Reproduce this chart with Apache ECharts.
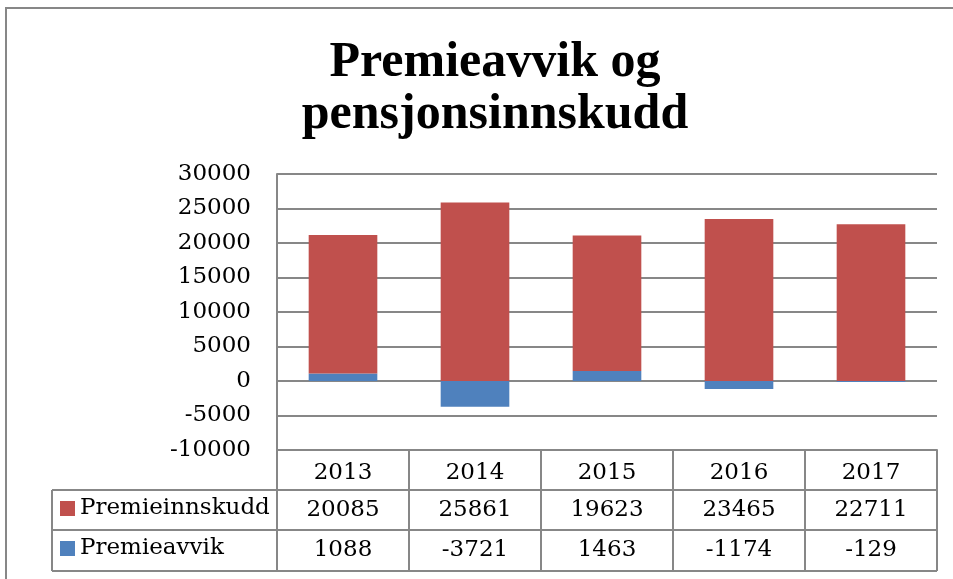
<!DOCTYPE html>
<html>
<head>
<meta charset="utf-8">
<script src="https://cdn.jsdelivr.net/npm/echarts@6/dist/echarts.min.js"></script>
<style>
  html, body { margin: 0; padding: 0; background: #fff; }
  #main { width: 953px; height: 579px; }
</style>
</head>
<body>
<div id="main"></div>
<script>
// data
const years = ['2013', '2014', '2015', '2016', '2017'];
const premieinnskudd = [20085, 25861, 19623, 23465, 22711];
const premieavvik = [1088, -3721, 1463, -1174, -129];

const red = '#C0504D';
const blue = '#4F81BD';
const lineGray = '#878787';
const labelFont = 'DejaVu Serif';
const labelSize = 23;

var chart = echarts.init(document.getElementById('main'));

function legendAt (name, top) {
  return {
    left: 60,
    top: top,
    padding: 0,
    itemWidth: 15,
    itemHeight: 15,
    itemGap: 0,
    icon: 'rect',
    selectedMode: false,
    data: [name],
    textStyle: { fontFamily: labelFont, fontSize: labelSize, color: '#000' }
  }
}

let option = {
  animation: false,
  title: {
    text: 'Premieavvik og\npensjonsinnskudd',
    left: 490,
    top: 32,
    textAlign: 'center',
    textStyle: {
      fontFamily: 'Liberation Serif',
      fontWeight: 'bold',
      fontSize: 50,
      lineHeight: 52,
      color: '#000'
    }
  },
  legend: [legendAt('Premieinnskudd', 497), legendAt('Premieavvik', 537)],
  grid: { left: 277, top: 174, width: 660, height: 276 },
  xAxis: {
    type: 'category',
    data: years,
    axisLine: { show: true, onZero: false, lineStyle: { color: lineGray, width: 2 } },
    axisTick: { show: true, interval: 0, alignWithLabel: false, length: 40, lineStyle: { color: lineGray, width: 2 } },
    axisLabel: { margin: 12, fontFamily: labelFont, fontSize: labelSize, color: '#000' }
  },
  yAxis: {
    type: 'value',
    min: -10000,
    max: 30000,
    interval: 5000,
    axisLine: { show: true, lineStyle: { color: lineGray, width: 2 } },
    axisTick: { show: false },
    splitLine: { lineStyle: { color: lineGray, width: 2 } },
    axisLabel: {
      margin: 26, fontFamily: labelFont, fontSize: labelSize, color: '#000',
      formatter: (v) => String(v)
    }
  },
  series: [
    {
      name: 'Premieavvik',
      type: 'bar',
      stack: 'total',
      barWidth: '52%',
      itemStyle: { color: blue },
      data: premieavvik
    },
    {
      name: 'Premieinnskudd',
      type: 'bar',
      stack: 'total',
      barWidth: '52%',
      itemStyle: { color: red },
      data: premieinnskudd
    }
  ]
};
chart.setOption(option);

// data table under the axis
let gfx = [];
gfx.push({
  type: 'rect',
  shape: { x: 6, y: 8, width: 1000, height: 1000 },
  style: { fill: null, stroke: lineGray, lineWidth: 2 },
  silent: true
});
let rowY = [490, 530, 571];
rowY.forEach((y) => {
  gfx.push({ type: 'line', shape: { x1: 52, y1: y, x2: 937, y2: y }, style: { stroke: lineGray, lineWidth: 2 } });
});
let colX = [52, 277];
for (let i = 0; i < years.length; i++) {
  let x = chart.convertToPixel({ xAxisIndex: 0 }, i) + 66;
  colX.push(x);
}
colX.forEach((x) => {
  gfx.push({ type: 'line', shape: { x1: x, y1: 490, x2: x, y2: 571 }, style: { stroke: lineGray, lineWidth: 2 } });
});
let rows = [premieinnskudd, premieavvik];
rows.forEach((vals, r) => {
  vals.forEach((v, i) => {
    gfx.push({
      type: 'text',
      x: chart.convertToPixel({ xAxisIndex: 0 }, i),
      y: (rowY[r] + rowY[r + 1]) / 2,
      style: {
        text: String(v),
        fontFamily: labelFont,
        fontSize: labelSize,
        fill: '#000',
        align: 'center',
        verticalAlign: 'middle'
      }
    });
  });
});
chart.setOption({ graphic: gfx });
</script>
</body>
</html>
